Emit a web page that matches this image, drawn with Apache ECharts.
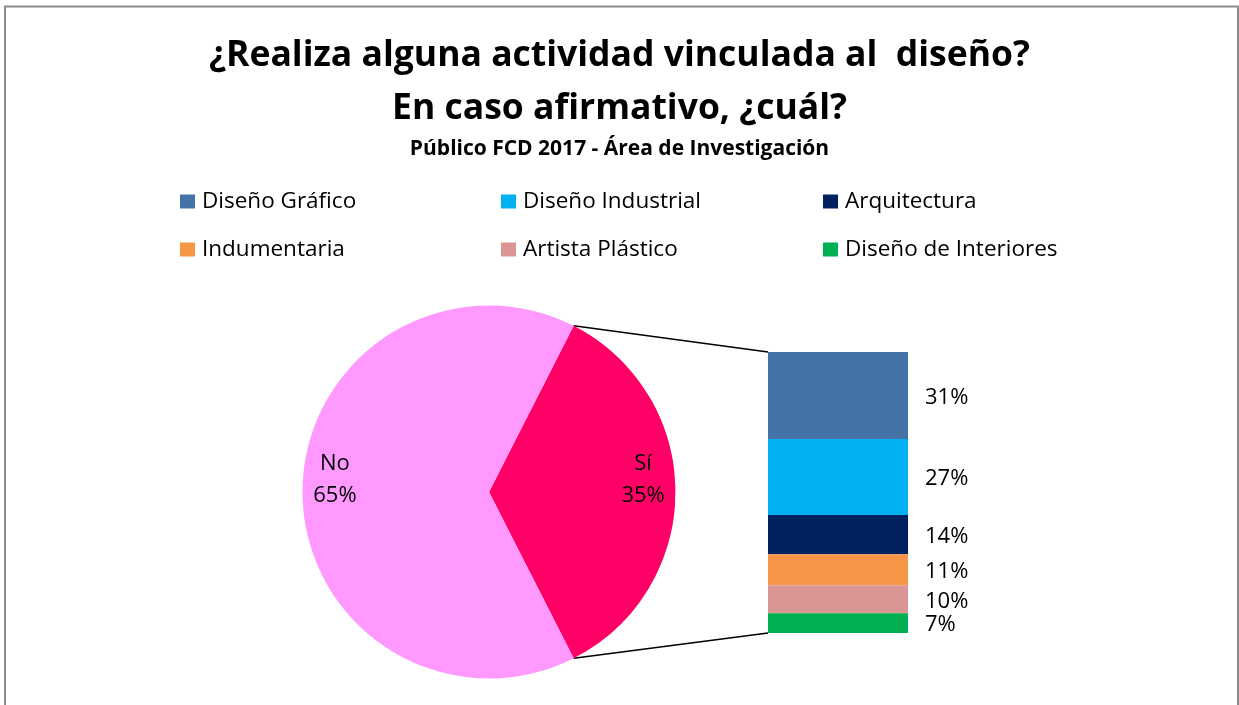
<!DOCTYPE html>
<html>
<head>
<meta charset="utf-8">
<script src="https://cdn.jsdelivr.net/npm/echarts@6/dist/echarts.min.js"></script>
<style>
html,body{margin:0;padding:0;background:#fff;}
#chart{width:1239px;height:705px;}
</style>
</head>
<body>
<div id="chart"></div>
<script>
// ---- data ----
const titleLine1 = '¿Realiza alguna actividad vinculada al  diseño?';
const titleLine2 = 'En caso afirmativo, ¿cuál?';
const subtitle = 'Público FCD 2017 - Área de Investigación';
const pieNames = ['Sí', 'No'];
const pieValues = [35, 65];
const categories = ['Diseño Gráfico', 'Diseño Industrial', 'Arquitectura', 'Indumentaria', 'Artista Plástico', 'Diseño de Interiores'];
const detailValues = [31, 27, 14, 11, 10, 7];

// ---- styles / layout ----
const pieColors = ['#FF0066', '#FF99FF'];
const barColors = ['#4673A7', '#00B0F0', '#002060', '#F79646', '#D99694', '#00B050'];
const FONT = '"Open Sans", Lato, sans-serif';
const PIE_CENTER = [489, 492];
const PIE_R = 186.5;
const GRID = { left: 768, top: 352, width: 140, height: 281 };

const chart = echarts.init(document.getElementById('chart'));

const total = pieValues.reduce((a, b) => a + b, 0);
const startAngle = pieValues[0] / total * 180;

const barSeries = categories.map((name, i) => ({
  name: name,
  type: 'bar',
  stack: 'detail',
  barWidth: '100%',
  data: [detailValues[i]],
  itemStyle: { color: barColors[i] },
  label: {
    show: true, position: 'right', distance: 17, offset: [0, 2],
    formatter: '{c}%', color: '#000', fontFamily: FONT, fontSize: 22
  },
  emphasis: { disabled: true },
  silent: true
}));

const legendText = { color: '#000', fontFamily: FONT, fontSize: 22.5, lineHeight: 20, padding: [0, 0, 0, 2] };
function makeLegend(left, names) {
  return {
    orient: 'vertical', left: left, top: 185, itemGap: 25, padding: 5,
    itemWidth: 15, itemHeight: 14, icon: 'rect', itemStyle: { borderWidth: 0 },
    textStyle: legendText, data: names, selectedMode: false
  };
}

const titleStyle = { fontFamily: FONT, fontWeight: 'bold', fontSize: 35.5, lineHeight: 40, color: '#000' };
chart.setOption({
  animation: false,
  backgroundColor: '#fff',
  title: [
    { text: titleLine1, left: 'center', top: 31, padding: 5, textStyle: titleStyle },
    { text: titleLine2, left: 'center', top: 84, padding: 5, textStyle: titleStyle },
    { text: subtitle, left: 'center', top: 132, padding: 5, textStyle: { fontFamily: FONT, fontWeight: 'bold', fontSize: 21, lineHeight: 24, color: '#000' } }
  ],
  legend: [
    makeLegend(175, [categories[0], categories[3]]),
    makeLegend(496, [categories[1], categories[4]]),
    makeLegend(818, [categories[2], categories[5]])
  ],
  grid: { left: GRID.left, top: GRID.top, width: GRID.width, height: GRID.height, containLabel: false },
  xAxis: { type: 'category', data: ['Sí'], show: false },
  yAxis: { type: 'value', min: 0, max: 100, inverse: true, show: false },
  series: [
    {
      type: 'pie', center: PIE_CENTER, radius: PIE_R, startAngle: startAngle, clockwise: true,
      data: pieNames.map((n, i) => ({ name: n, value: pieValues[i], itemStyle: { color: pieColors[i] } })),
      label: { show: false }, labelLine: { show: false },
      emphasis: { disabled: true }, silent: true
    },
    {
      type: 'pie', center: PIE_CENTER, radius: [PIE_R * 0.62, PIE_R], startAngle: startAngle, clockwise: true,
      data: pieNames.map((n, i) => ({ name: n, value: pieValues[i] })),
      itemStyle: { color: 'rgba(0,0,0,0)' },
      label: {
        show: true, position: 'inside', formatter: '{b}\n{c}%', offset: [0, -12],
        color: '#000', fontFamily: FONT, fontSize: 22, lineHeight: 32
      },
      labelLine: { show: false },
      emphasis: { disabled: true }, silent: true
    }
  ].concat(barSeries)
});

// connector lines from the pie slice edges to the stacked bar corners
const a = startAngle * Math.PI / 180;
const pTop = [PIE_CENTER[0] + PIE_R * Math.cos(a), PIE_CENTER[1] - PIE_R * Math.sin(a)];
const pBot = [PIE_CENTER[0] + PIE_R * Math.cos(a), PIE_CENTER[1] + PIE_R * Math.sin(a)];
const yTop = chart.convertToPixel({ yAxisIndex: 0 }, 0);
const yBot = chart.convertToPixel({ yAxisIndex: 0 }, detailValues.reduce((s, v) => s + v, 0));
chart.setOption({
  graphic: [
    { type: 'line', shape: { x1: pTop[0], y1: pTop[1], x2: GRID.left, y2: yTop }, style: { stroke: '#000', lineWidth: 1.5 }, silent: true },
    { type: 'line', shape: { x1: pBot[0], y1: pBot[1], x2: GRID.left, y2: yBot }, style: { stroke: '#000', lineWidth: 1.5 }, silent: true },
    { type: 'rect', shape: { x: 5, y: 6.5, width: 1233, height: 800 }, style: { fill: 'none', stroke: '#8c8c8c', lineWidth: 2 }, silent: true }
  ]
});
</script>
</body>
</html>
